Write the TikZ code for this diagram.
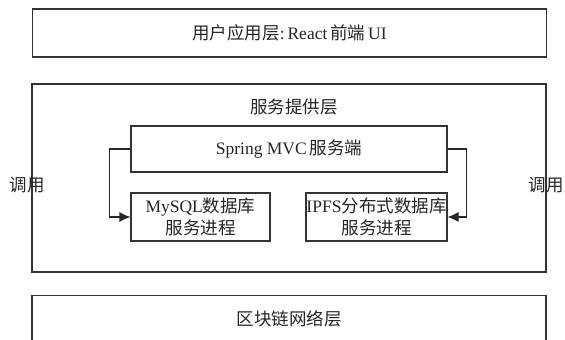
\documentclass[tikz,border=0pt]{standalone}
\usepackage{fontspec}
\setmainfont{Liberation Serif}
\newfontfamily\cjk{Noto Sans CJK SC}
\newcommand{\zh}[1]{{\cjk #1}}
\usetikzlibrary{arrows.meta}

\begin{document}
\begin{tikzpicture}[x=1pt,y=-1pt,font=\fontsize{17.5}{22}\selectfont,text=black!85]
\tikzstyle{layer} = [rectangle, draw=black!80, line width=1.1pt, minimum width=514pt, inner sep=0pt]
\tikzstyle{block} = [rectangle, draw=black!80, line width=1.1pt, align=center, inner sep=0pt]
\tikzstyle{line} = [draw=black!85, line width=1.1pt, -{Latex[length=11pt,width=10pt]}]
\tikzstyle{calltext} = [inner sep=0pt]
\clip (0,0) rectangle (565,340);
% layers
\node [layer, minimum height=48pt] (app) at (289.5,33) {\zh{用户应用层}:\,React\,\zh{前端}\,UI};
\node [layer, minimum height=188pt] (service) at (289,178) {};
\node [calltext] (servicetitle) at (294,107) {\zh{服务提供层}};
\node [layer, minimum height=60pt, anchor=north] (chain) at (289,295) {};
\node [calltext] (chaintitle) at (289,319) {\zh{区块链网络层}};
% blocks
\node [block, minimum width=316pt, minimum height=46pt] (spring) at (289,149) {Spring MVC\,\zh{服务端}};
\node [block, minimum width=139pt, minimum height=48pt] (mysql) at (200.5,217) {MySQL\zh{数据库}\\\zh{服务进程}};
\node [block, minimum width=141pt, minimum height=48pt] (ipfs) at (376.5,217) {IPFS\zh{分布式数据库}\\\zh{服务进程}};
% calls
\node [calltext] (callleft) at (27,185) {\zh{调用}};
\node [calltext] (callright) at (546,185) {\zh{调用}};
\path [line] (spring.west) -- ++(-21,0) |- (mysql.west);
\path [line] (spring.east) -- ++(19,0) |- (ipfs.east);
\end{tikzpicture}
\end{document}
